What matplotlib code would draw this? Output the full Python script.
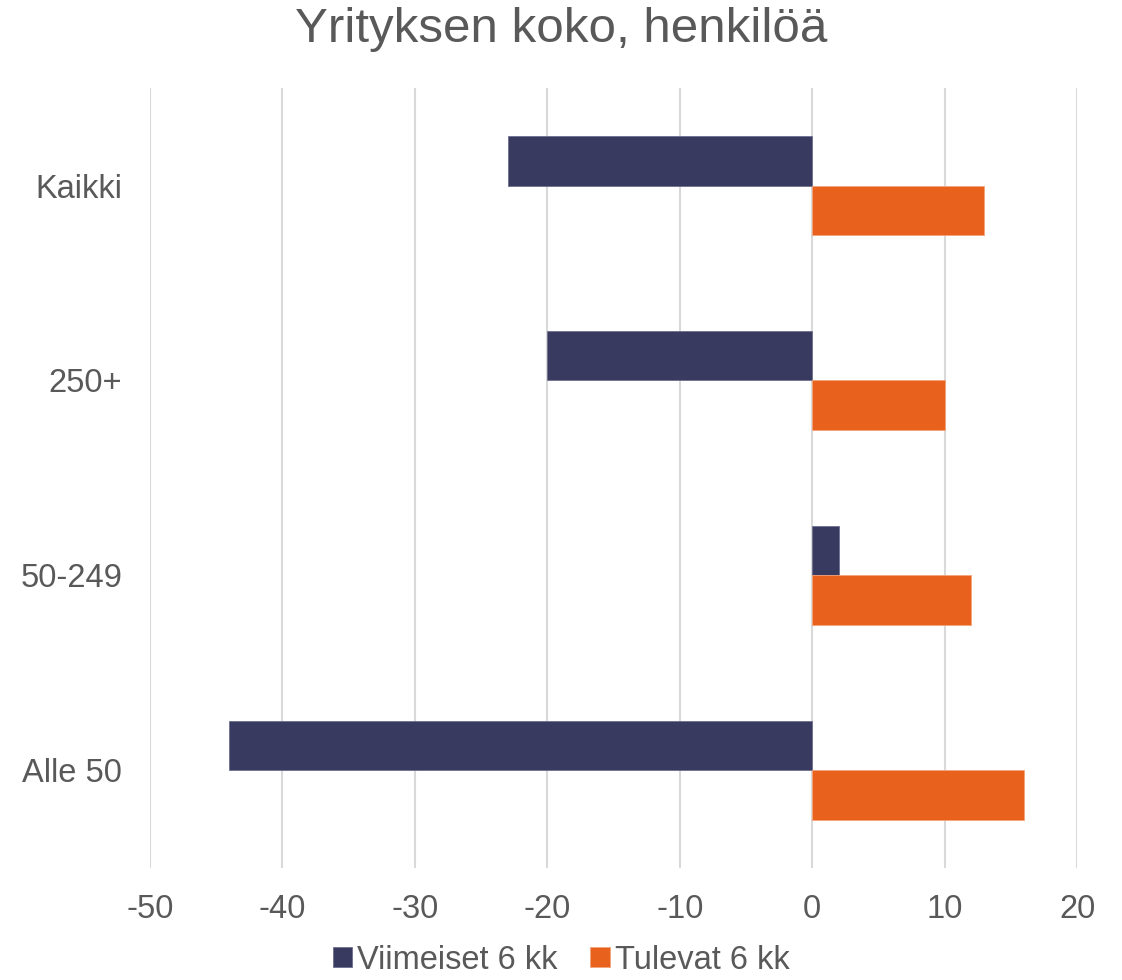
import numpy as np
import matplotlib.pyplot as plt

plt.rcParams['font.family'] = ['Liberation Sans', 'DejaVu Sans']

categories = ["Kaikki", "250+", "50-249", "Alle 50"]
viimeiset = [-23, -20, 2, -44]
tulevat = [13, 10, 12, 16]
series_names = ["Viimeiset 6 kk", "Tulevat 6 kk"]
xticks = [-50, -40, -30, -20, -10, 0, 10, 20]

DARK = "#383a60"
ORANGE = "#e8621e"
GREY = "#595959"

fig = plt.figure(figsize=(11.22, 9.8), dpi=100)
ax = fig.add_axes([0.1337, 0.1143, 0.8262, 0.7959])

y = np.arange(len(categories))[::-1]
h = 0.256
ax.barh(y + h / 2, viimeiset, height=h, color=DARK, edgecolor="#6e6f90",
        linewidth=0.6, label=series_names[0], zorder=3)
ax.barh(y - h / 2, tulevat, height=h, color=ORANGE, edgecolor="#f4a37a",
        linewidth=0.6, label=series_names[1], zorder=3)

ax.set_xlim(-50, 20)
ax.set_ylim(-0.5, 3.5)
ax.set_xticks(xticks)
ax.set_xticklabels([str(t) for t in xticks])
ax.set_yticks(y)
ax.set_yticklabels(categories)
ax.tick_params(axis="both", length=0, labelsize=23.5, colors=GREY)
ax.tick_params(axis="x", pad=19)
ax.tick_params(axis="y", pad=20)
ax.grid(axis="x", color="#d9d9d9", linewidth=1.5, zorder=0)
ax.set_axisbelow(True)
for s in ax.spines.values():
    s.set_visible(False)

fig.text(0.5, 1 - 29 / 980, "Yrityksen koko, henkilöä", ha="center", va="center",
         fontsize=35.5, color=GREY)

fig.legend(loc="center", bbox_to_anchor=(0.5, 1 - 960 / 980), ncol=2, frameon=False,
           fontsize=23.5, labelcolor=GREY, handlelength=0.6, handleheight=0.6,
           handletextpad=0.15, columnspacing=1.0, borderpad=0.2)

fig.savefig("out.png", dpi=100)
